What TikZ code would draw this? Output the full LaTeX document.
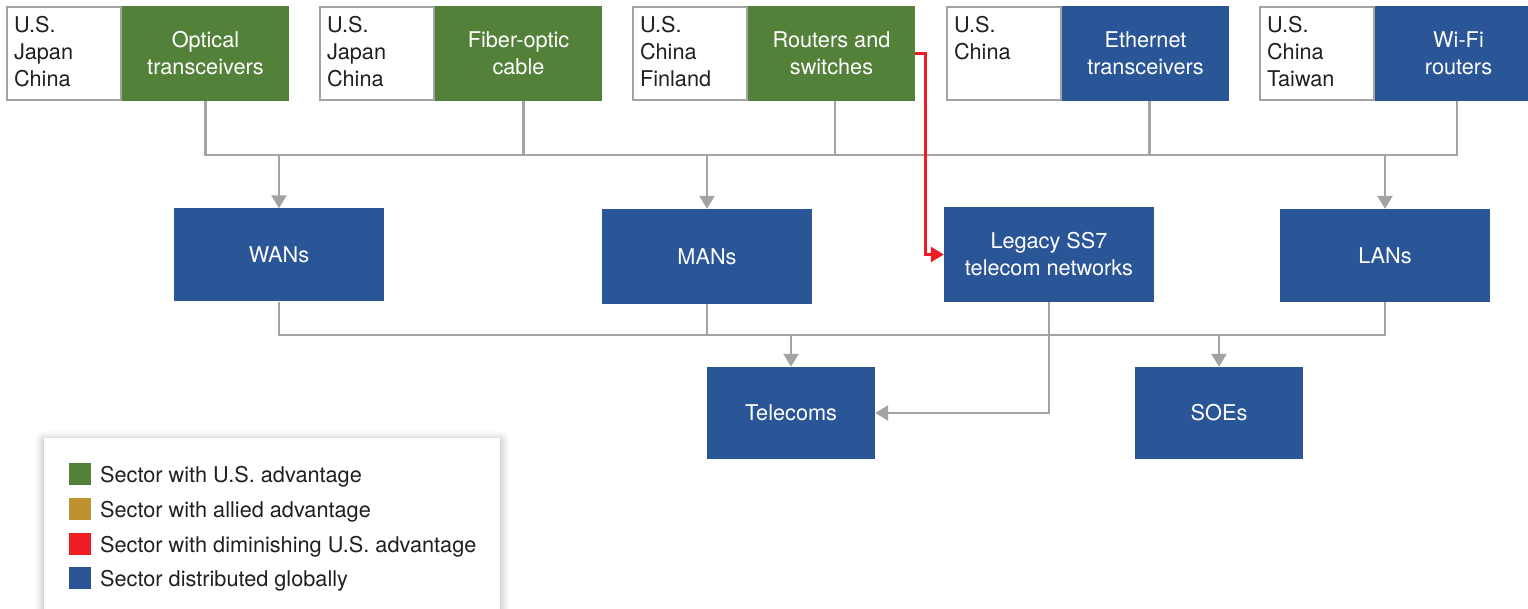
\documentclass[tikz,border=0pt]{standalone}
\usepackage{fontspec}
\setmainfont{TeX Gyre Heros}
\usetikzlibrary{arrows.meta,shadows.blur}
\definecolor{usgreen}{HTML}{538139}
\definecolor{globblue}{HTML}{2A5597}
\definecolor{allygold}{HTML}{BE922E}
\definecolor{dimred}{HTML}{EC1C24}
\definecolor{linegray}{HTML}{A3A3A3}
\definecolor{inkdark}{HTML}{231F20}
\tikzset{
  x=1pt, y=-1pt,
  every node/.style={font=\fontsize{21.7}{27}\selectfont},
  sector/.style={rectangle, inner sep=0pt, text=white, align=center,
    minimum width=167pt, minimum height=95pt},
  bluebox/.style={rectangle, fill=globblue, inner sep=0pt, text=white, align=center,
    minimum width=210pt, minimum height=93pt},
  smallbox/.style={bluebox, minimum width=168pt, minimum height=92pt},
  origin/.style={rectangle, draw=linegray, line width=2pt, fill=white,
    minimum width=114pt, minimum height=93pt, inner sep=0pt},
  origintext/.style={anchor=north west, align=left, text=inkdark, inner xsep=8pt, inner ysep=10pt},
  conn/.style={draw=linegray, line width=2.5pt},
  arr/.style={conn, -{Triangle[length=13pt,width=15pt]}},
  redarr/.style={draw=dimred, line width=2.5pt, -{Triangle[length=13pt,width=15pt]}},
  swatch/.style={rectangle, inner sep=0pt, minimum width=22pt, minimum height=22pt},
  legtext/.style={anchor=base west, text=inkdark, inner sep=0pt}
}
\begin{document}
\begin{tikzpicture}
\useasboundingbox (0,0) rectangle (1528,609);
\clip (0,0) rectangle (1528,609);

% legend panel with soft shadow
\node[rectangle, fill=white, minimum width=456pt, minimum height=200pt, anchor=north west,
  blur shadow={shadow xshift=0pt, shadow yshift=-2pt, shadow blur radius=9pt, shadow opacity=35}]
  (legend) at (44,438) {};

% supply sectors (top row)
\node[sector, fill=usgreen] (opt) at (205.5,53.5) {Optical\\transceivers};
\node[origin, anchor=east] (optc) at (opt.west) {};
\node[origintext] at (optc.north west) {U.S.\\Japan\\China};

\node[sector, fill=usgreen] (fib) at (518.5,53.5) {Fiber-optic\\cable};
\node[origin, anchor=east] (fibc) at (fib.west) {};
\node[origintext] at (fibc.north west) {U.S.\\Japan\\China};

\node[sector, fill=usgreen] (rout) at (831.5,53.5) {Routers and\\switches};
\node[origin, anchor=east] (routc) at (rout.west) {};
\node[origintext] at (routc.north west) {U.S.\\China\\Finland};

\node[sector, fill=globblue] (eth) at (1145.5,53.5) {Ethernet\\transceivers};
\node[origin, anchor=east] (ethc) at (eth.west) {};
\node[origintext] at (ethc.north west) {U.S.\\China};

\node[sector, fill=globblue] (wifi) at (1458.5,53.5) {Wi-Fi\\routers};
\node[origin, anchor=east] (wific) at (wifi.west) {};
\node[origintext] at (wific.north west) {U.S.\\China\\Taiwan};

% networks
\node[bluebox] (wan) at (279,255) {WANs};
\node[bluebox, minimum height=95pt] (man) at (707,256.5) {MANs};
\node[bluebox, minimum height=95pt] (leg) at (1049,254.5) {Legacy SS7\\telecom networks};
\node[bluebox] (lan) at (1385,255.5) {LANs};

% users
\node[smallbox] (tel) at (791,413) {Telecoms};
\node[smallbox] (soe) at (1219,413) {SOEs};

% bus lines
\coordinate (busA) at (0,155);
\coordinate (busB) at (0,335);

\draw[conn] (opt.south) |- ([xshift=-1.5pt]wifi.south |- busA) -- ([xshift=-1.5pt]wifi.south);
\draw[conn] ([xshift=5pt]fib.south) -- ([xshift=5pt]fib.south |- busA);
\draw[conn] ([xshift=3.5pt]rout.south) -- ([xshift=3.5pt]rout.south |- busA);
\draw[conn] ([xshift=4pt]eth.south) -- ([xshift=4pt]eth.south |- busA);
\draw[arr] (wan.north |- busA) -- (wan.north);
\draw[arr] (man.north |- busA) -- (man.north);
\draw[arr] (lan.north |- busA) -- (lan.north);

\draw[conn] (wan.south) |- (lan.south |- busB) -- (lan.south);
\draw[conn] (man.south) -- (man.south |- busB);
\draw[arr] (tel.north |- busB) -- (tel.north);
\draw[arr] (soe.north |- busB) -- (soe.north);

\draw[arr] (leg.south) |- (tel.east);

\draw[redarr] (rout.east) -- ++(10.5,0) |- (leg.west);

% legend entries
\node[swatch, fill=usgreen] (s1) at (80,474) {};
\node[legtext] (l1) at (100,482) {Sector with U.S. advantage};
\node[swatch, fill=allygold] (s2) at (80,509) {};
\node[legtext] (l2) at (100,517) {Sector with allied advantage};
\node[swatch, fill=dimred] (s3) at (80,544) {};
\node[legtext] (l3) at (100,552) {Sector with diminishing U.S. advantage};
\node[swatch, fill=globblue] (s4) at (80,578) {};
\node[legtext] (l4) at (100,586) {Sector distributed globally};
\end{tikzpicture}
\end{document}
